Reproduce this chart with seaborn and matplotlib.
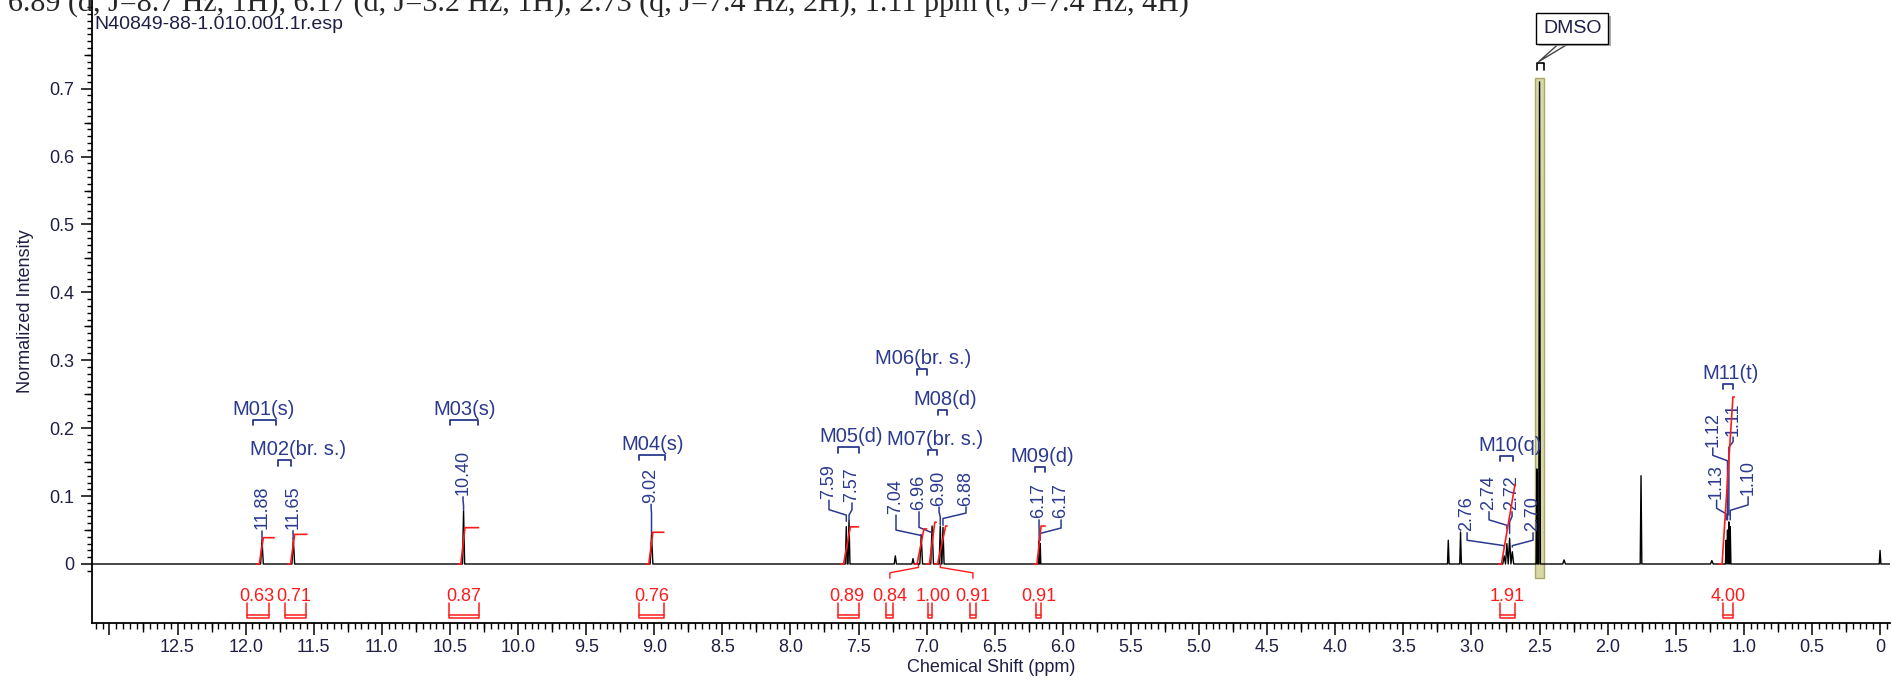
import matplotlib
matplotlib.use("Agg")
import matplotlib.pyplot as plt
import matplotlib.patheffects as pe
from matplotlib.patches import Rectangle
import numpy as np
import pandas as pd
import seaborn as sns

# ---- spectrum peaks: shift (ppm), height, half base width (ppm)
peak_ppm = [11.88, 11.65, 10.40, 9.02, 7.59, 7.57, 7.23, 7.10, 7.04, 6.96, 6.90, 6.88, 6.174, 6.166,
            3.17, 3.08, 2.76, 2.74, 2.72, 2.70, 2.52, 2.50, 2.32, 1.755, 1.235, 1.13, 1.12, 1.11, 1.10, 0.0]
peak_height = [0.035, 0.037, 0.078, 0.043, 0.055, 0.064, 0.012, 0.008, 0.042, 0.056, 0.056, 0.054, 0.034, 0.030,
               0.035, 0.047, 0.012, 0.030, 0.038, 0.018, 0.14, 0.71, 0.006, 0.13, 0.005, 0.035, 0.05, 0.062, 0.055, 0.02]
peak_width = [0.01, 0.01, 0.008, 0.01, 0.007, 0.007, 0.008, 0.008, 0.01, 0.01, 0.008, 0.008, 0.004, 0.004,
              0.006, 0.006, 0.01, 0.01, 0.01, 0.01, 0.005, 0.006, 0.01, 0.006, 0.01, 0.005, 0.005, 0.005, 0.005, 0.006]

# ---- multiplets
mult_name = ["M01(s)", "M02(br. s.)", "M03(s)", "M04(s)", "M05(d)", "M06(br. s.)", "M07(br. s.)",
             "M08(d)", "M09(d)", "M10(q)", "M11(t)"]
mult_from = [11.946, 11.762, 10.499, 9.112, 7.651, 7.070, 6.990, 6.916, 6.204, 2.790, 1.153]
mult_to = [11.777, 11.667, 10.294, 8.921, 7.496, 6.997, 6.924, 6.850, 6.131, 2.694, 1.080]
mult_y = [0.212, 0.153, 0.212, 0.161, 0.172, 0.287, 0.168, 0.227, 0.143, 0.159, 0.265]
mult_text_x = [11.865, 11.615, 10.389, 9.009, 7.555, 7.026, 6.938, 6.865, 6.153, 2.717, 1.101]

# ---- peak labels
lab_text = ["11.88", "11.65", "10.40", "9.02", "7.59", "7.57", "7.04", "6.96", "6.90", "6.88", "6.17", "6.17",
            "2.76", "2.74", "2.72", "2.70", "1.13", "1.12", "1.11", "1.10"]
lab_peak = [11.88, 11.65, 10.40, 9.02, 7.59, 7.57, 7.04, 6.96, 6.90, 6.88, 6.174, 6.166,
            2.76, 2.74, 2.72, 2.70, 1.13, 1.12, 1.11, 1.10]
lab_x = [11.880, 11.652, 10.404, 9.023, 7.717, 7.548, 7.225, 7.056, 6.909, 6.711, 6.175, 6.013,
         3.032, 2.871, 2.702, 2.548, 1.200, 1.228, 1.079, 0.969]
lab_y = [0.049, 0.049, 0.099, 0.088, 0.094, 0.090, 0.072, 0.077, 0.084, 0.084, 0.065, 0.065,
         0.046, 0.077, 0.077, 0.046, 0.094, 0.171, 0.187, 0.099]
lab_knee = [0.045, 0.045, 0.094, 0.083, 0.080, 0.080, 0.050, 0.054, 0.077, 0.075, 0.057, 0.053,
            0.035, 0.065, 0.070, 0.035, 0.082, 0.160, 0.180, 0.087]
lab_end = [0.036, 0.038, 0.079, 0.044, 0.063, 0.065, 0.043, 0.045, 0.058, 0.057, 0.035, 0.035,
           0.026, 0.052, 0.045, 0.025, 0.065, 0.065, 0.072, 0.065]

# ---- integrals
int_value = [0.63, 0.71, 0.87, 0.76, 0.89, 0.84, 1.00, 0.91, 0.91, 1.91, 4.00]
int_text = ["0.63", "0.71", "0.87", "0.76", "0.89", "0.84", "1.00", "0.91", "0.91", "1.91", "4.00"]
int_from = [11.99, 11.71, 10.51, 9.11, 7.65, 7.30, 6.99, 6.68, 6.20, 2.79, 1.15]
int_to = [11.83, 11.56, 10.29, 8.93, 7.50, 7.25, 6.96, 6.64, 6.16, 2.68, 1.08]
int_label_x = [11.92, 11.645, 10.40, 9.02, 7.585, 7.27, 6.95, 6.66, 6.18, 2.74, 1.115]
int_rise_a = [11.90, 11.67, 10.42, 9.04, 7.61, 7.07, 6.98, 6.92, 6.19, 2.78, 1.16]
int_rise_b = [11.87, 11.64, 10.39, 9.01, 7.56, 7.02, 6.94, 6.86, 6.16, 2.68, 1.08]
int_tail = [11.79, 11.55, 10.29, 8.93, 7.50, 7.00, 6.93, 6.85, 6.13, 2.68, 1.07]
int_scale = 0.0615

x_ticks = [13.0, 12.5, 12.0, 11.5, 11.0, 10.5, 10.0, 9.5, 9.0, 8.5, 8.0, 7.5, 7.0, 6.5, 6.0,
           5.5, 5.0, 4.5, 4.0, 3.5, 3.0, 2.5, 2.0, 1.5, 1.0, 0.5, 0.0]
x_tick_labels = ["", "12.5", "12.0", "11.5", "11.0", "10.5", "10.0", "9.5", "9.0", "8.5", "8.0", "7.5", "7.0",
                 "6.5", "6.0", "5.5", "5.0", "4.5", "4.0", "3.5", "3.0", "2.5", "2.0", "1.5", "1.0", "0.5", "0"]
y_ticks = [0.0, 0.1, 0.2, 0.3, 0.4, 0.5, 0.6, 0.7]
y_tick_labels = ["0", "0.1", "0.2", "0.3", "0.4", "0.5", "0.6", "0.7"]

title = "6.89 (d, J=8.7 Hz, 1H), 6.17 (d, J=3.2 Hz, 1H), 2.73 (q, J=7.4 Hz, 2H), 1.11 ppm (t, J=7.4 Hz, 4H)"
file_name = "N40849-88-1.010.001.1r.esp"

TXT = "#1f1f45"
NAVY = "#2b3a8f"
RED = "#ff1a1a"

sns.set_style("ticks")
plt.rcParams["font.family"] = ["Liberation Sans", "DejaVu Sans"]

fig = plt.figure(figsize=(18.92, 6.80), dpi=100)
ax = fig.add_axes([92 / 1892, 1 - 623 / 680, 1798 / 1892, 623 / 680])

# DMSO solvent band
ax.add_patch(Rectangle((2.47, -0.02), 0.06, 0.735, facecolor="#d9d7a6", edgecolor="#aaa76c", lw=1, zorder=1))

# spectrum line
xs, ys = [13.3], [0.0]
for p, h, w in sorted(zip(peak_ppm, peak_height, peak_width), reverse=True):
    xs += [p + w, p, p - w]
    ys += [0.0, h, 0.0]
xs.append(-0.2)
ys.append(0.0)
spec = pd.DataFrame({"ppm": xs, "intensity": ys})
sns.lineplot(data=spec, x="ppm", y="intensity", sort=False, estimator=None, color="black", lw=1.0, ax=ax, zorder=3)

# multiplet brackets and names
for name, a, b, y, tx in zip(mult_name, mult_from, mult_to, mult_y, mult_text_x):
    ax.plot([a, a, b, b], [y - 0.008, y, y, y - 0.008], color=NAVY, lw=1.3, zorder=4)
    ax.text(tx, y + 0.007, name, color=NAVY, fontsize=14.5, ha="center", va="baseline")

# peak labels with leaders
for t, pk, lx, ly, kn, en in zip(lab_text, lab_peak, lab_x, lab_y, lab_knee, lab_end):
    ax.plot([lx, lx, pk, pk], [ly, kn, kn - 0.008, en], color=NAVY, lw=1.1, zorder=4)
    ax.text(lx, ly + 0.002, t, color=NAVY, fontsize=13, rotation=90, ha="center", va="bottom")

# integral curves, brackets, values
for v, t, a, b, lx, ra, rb, tl in zip(int_value, int_text, int_from, int_to, int_label_x,
                                        int_rise_a, int_rise_b, int_tail):
    h = v * int_scale
    ax.plot([ra + 0.02, ra, rb, tl], [0, 0, h, h], color=RED, lw=1.2, zorder=5)
    ax.plot([a, a, b, b], [-0.058, -0.0795, -0.0795, -0.058], color=RED, lw=1.1)
    ax.plot([a, b], [-0.0745, -0.0745], color=RED, lw=1.1)
    ax.text(lx, -0.0545, t, color=RED, fontsize=13, ha="center", va="baseline")

# connectors for shifted integral labels
ax.plot([7.27, 7.27, 7.06, 7.06], [-0.021, -0.013, -0.005, 0.0], color=RED, lw=1.0)
ax.plot([6.66, 6.66, 6.90, 6.90], [-0.021, -0.013, -0.005, 0.0], color=RED, lw=1.0)

# DMSO callout
ax.plot([2.52, 2.52, 2.47, 2.47], [0.728, 0.738, 0.738, 0.728], color="black", lw=1.2)
ax.plot([2.36, 2.505, 2.29], [0.766, 0.740, 0.766], color="#444444", lw=1.0)
box = ax.text(2.26, 0.789, "DMSO", fontsize=14, color=TXT, ha="center", va="center",
              bbox=dict(boxstyle="square,pad=0.35", fc="white", ec="black", lw=1.0))
box.get_bbox_patch().set_path_effects([pe.withSimplePatchShadow(offset=(2, -2), shadow_rgbFace="#999999", alpha=0.8)])

# axes and ticks
ax.set_xlim(13.128, -0.073)
ax.set_ylim(-0.0869, 0.8306)
ax.set_xticks(x_ticks)
ax.set_xticklabels(x_tick_labels)
ax.set_xticks(np.arange(-0.05, 13.12, 0.05), minor=True)
ax.set_yticks(y_ticks)
ax.set_yticklabels(y_tick_labels)
ax.set_yticks(np.arange(-0.01, 0.83, 0.01), minor=True)
ax.tick_params(axis="x", which="major", length=8.6, width=1.1, pad=3, labelsize=13, labelcolor=TXT, color="black")
ax.tick_params(axis="x", which="minor", length=4.3, width=1.0, color="black")
ax.tick_params(axis="y", which="major", length=7.9, width=1.1, pad=5, labelsize=13, labelcolor=TXT, color="black")
ax.tick_params(axis="y", which="minor", length=3.6, width=1.0, color="black")

secx = ax.secondary_xaxis("bottom")
secx.set_xticks(np.arange(0.25, 13.1, 0.5))
secx.set_xticklabels([])
secx.tick_params(length=6.3, width=1.0, color="black")
secx.spines["bottom"].set_visible(False)
secy = ax.secondary_yaxis("left")
secy.set_yticks(np.arange(0.05, 0.8, 0.1))
secy.set_yticklabels([])
secy.tick_params(length=5.8, width=1.0, color="black")
secy.spines["left"].set_visible(False)

for s in ["top", "right"]:
    ax.spines[s].set_visible(False)
for s in ["left", "bottom"]:
    ax.spines[s].set_linewidth(1.3)
    ax.spines[s].set_color("black")

ax.set_xlabel("Chemical Shift (ppm)", fontsize=13, color=TXT)
ax.xaxis.set_label_coords(0.5, -0.058)
ax.xaxis.label.set_va("top")
ax.set_ylabel("Normalized Intensity", fontsize=13, color=TXT)
ax.yaxis.set_label_coords(-0.032, 0.5)

fig.text(8 / 1892, 1 - 11 / 680, title, fontsize=21.6, family=["Liberation Serif", "DejaVu Serif"], va="baseline")
fig.text(94 / 1892, 1 - 29 / 680, file_name, fontsize=14, color=TXT, va="baseline")

fig.savefig("out.png", dpi=100)
